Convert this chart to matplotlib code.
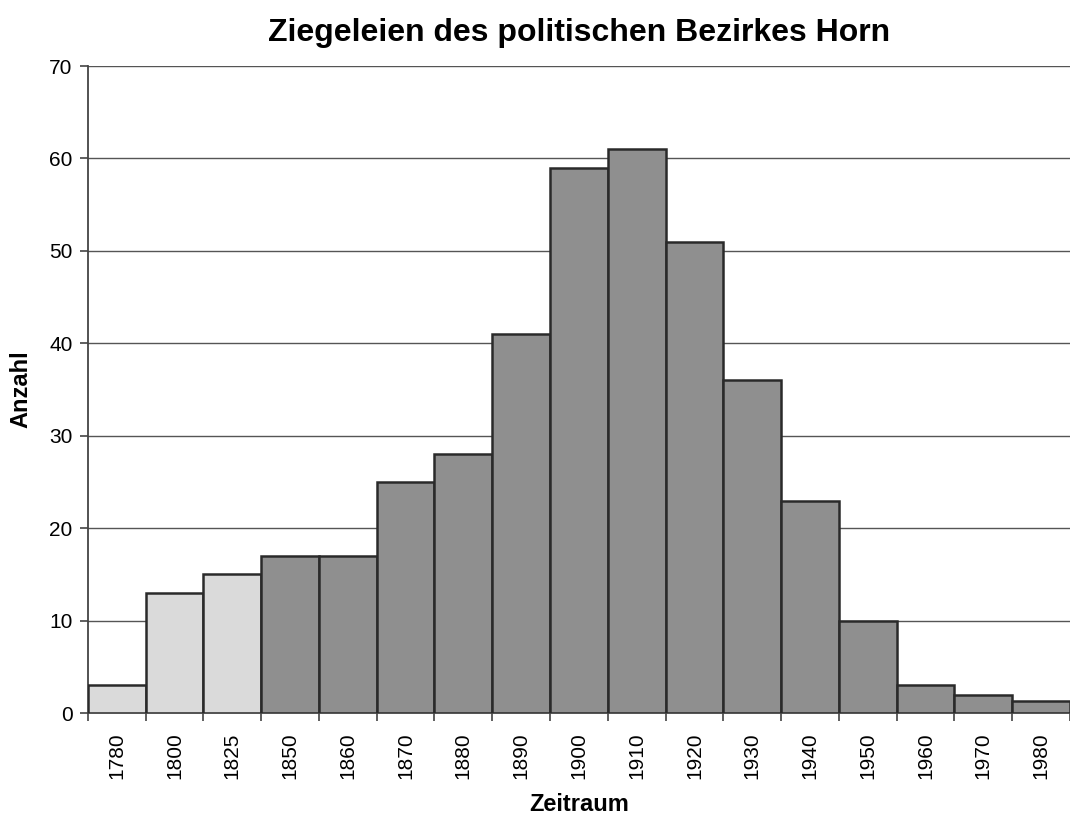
import numpy as np
import matplotlib.pyplot as plt

plt.rcParams['font.family'] = ['Liberation Sans', 'DejaVu Sans']

# Daten
zeitraum = ['1780', '1800', '1825', '1850', '1860', '1870', '1880', '1890', '1900',
            '1910', '1920', '1930', '1940', '1950', '1960', '1970', '1980']
anzahl = [3, 13, 15, 17, 17, 25, 28, 41, 59, 61, 51, 36, 23, 10, 3, 2, 1.3]
hell = ['1780', '1800', '1825']   # hell gefüllte Balken

fig = plt.figure(figsize=(10.7, 8.15), dpi=100)
ax = fig.add_axes([0.082, 0.125, 0.918, 0.794])

x = np.arange(len(zeitraum))
farben = ['#dadada' if z in hell else '#8f8f8f' for z in zeitraum]
ax.bar(x, anzahl, width=1.0, color=farben, edgecolor='#2a2a2a', linewidth=1.8,
       zorder=3)

ax.set_xlim(-0.5, len(zeitraum) - 0.5)
ax.set_ylim(0, 70)
ax.set_yticks(range(0, 71, 10))
ax.yaxis.grid(True, color='#555555', linewidth=1.0, zorder=0)

# Tickmarks an den Balkengrenzen, Beschriftung mittig
ax.set_xticks(x)
ax.set_xticklabels(zeitraum, rotation=90, fontsize=15)
ax.set_xticks(np.arange(-0.5, len(zeitraum)), minor=True)
ax.tick_params(axis='x', which='major', length=0, pad=14)
ax.tick_params(axis='x', which='minor', length=6, width=1.2, color='#444444')
ax.tick_params(axis='y', length=6, width=1.2, color='#444444', labelsize=15, pad=5)

for s in ['top', 'right']:
    ax.spines[s].set_visible(False)
ax.spines['left'].set_color('#444444')
ax.spines['left'].set_linewidth(1.3)
ax.spines['bottom'].set_color('#444444')
ax.spines['bottom'].set_linewidth(1.3)

ax.set_title('Ziegeleien des politischen Bezirkes Horn', fontsize=23,
             fontweight='bold', pad=18)
ax.set_ylabel('Anzahl', fontsize=17, fontweight='bold', labelpad=12)
ax.set_xlabel('Zeitraum', fontsize=17, fontweight='bold', labelpad=10)

fig.savefig('out.png', dpi=100, facecolor='white')
